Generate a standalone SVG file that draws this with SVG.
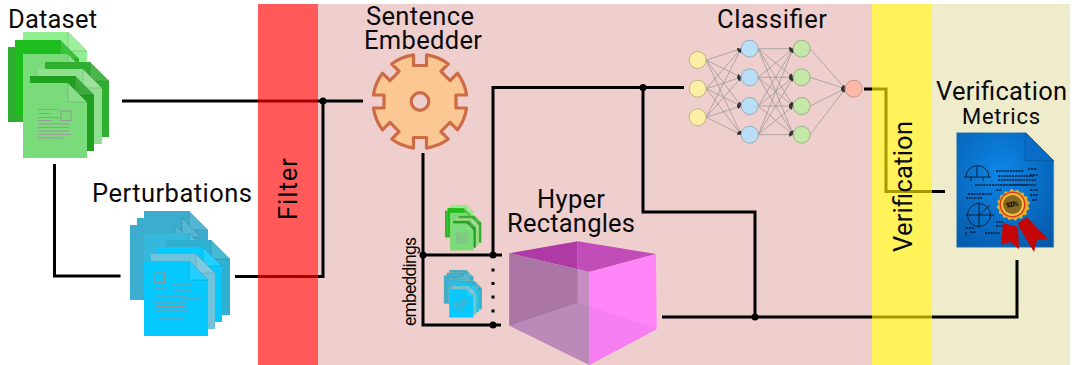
<svg xmlns="http://www.w3.org/2000/svg" xmlns:xlink="http://www.w3.org/1999/xlink" width="1080" height="365" viewBox="0 0 1080 365">
<style>
text{font-family:Roboto,"Liberation Sans",sans-serif;fill:#0a0a0a;font-size:25.500px}
.wire{fill:none;stroke:#000;stroke-width:3}
.dot{fill:#000}
.nn{stroke:#949494;stroke-width:.7;fill:none;marker-end:url(#ah)}
.c1,.c2,.c3,.c4{stroke-width:.9}
.c1{fill:#fdeea5;stroke:#b8ad7c}.c2{fill:#b9def5;stroke:#8fa9ba}.c3{fill:#c5e8a8;stroke:#93ad7e}.c4{fill:#fdb8a8;stroke:#c08d80}
.ln{stroke:#999;stroke-width:1.1;fill:none}
.ln2{stroke:#8a9aa0;stroke-width:1.1;fill:none}
.sc{stroke:#0a2340;stroke-width:1;fill:none}
.math{stroke:#071c38;stroke-width:1.300;stroke-dasharray:2 .8;fill:none}
</style>
<defs>
<marker id="ah" markerUnits="userSpaceOnUse" markerWidth="5" markerHeight="5" refX="4" refY="2" orient="auto"><path d="M0,0L4,2L0,4Z" fill="#333"/></marker>
<radialGradient id="blue" cx=".45" cy=".35" r=".8"><stop offset="0" stop-color="#0d86e6"/><stop offset="1" stop-color="#0558a8"/></radialGradient>
<g id="page"><path d="M0,0H45L64,19V75H0Z"/><path d="M45,0V19H64Z" fill="#fff" fill-opacity=".12" stroke="#000" stroke-opacity=".2" stroke-width=".6"/></g>
<g id="greenstack">
<use href="#page" x="23" y="32" fill="#8fee8f"/>
<use href="#page" x="8" y="47" fill="#2fae2f"/>
<use href="#page" x="15" y="40" fill="#1cbd1c"/>
<use href="#page" x="23" y="54" fill="#7adb7a"/>
<use href="#page" x="45" y="62" fill="#2fae2f"/>
<use href="#page" x="38" y="69" fill="#8fdf8f"/>
<use href="#page" x="30" y="76" fill="#1fa01f"/>
<use href="#page" x="23" y="83" fill="#7adb7a"/>
<rect x="23" y="54" width="15" height="15" fill="#7adb7a" stroke="none"/>
<rect x="23" y="69" width="7" height="89" fill="#7adb7a" stroke="none"/>
<path class="ln" d="M38,109.500H59M38,113.500H51M38,117.500H59M38,120.500H52M38,124H69M38,127.500H69M38,131H69M38,134.500H71M38,138H63"/>
<rect class="ln" x="61" y="111" width="10" height="9.500"/>
</g>
<g id="bluestack">
<use href="#page" x="144" y="211" fill="#3caccf"/>
<use href="#page" x="137" y="218" fill="#3caccf"/>
<use href="#page" x="130" y="225" fill="#3caccf"/>
<use href="#page" x="144" y="233" fill="#35b8dc"/>
<use href="#page" x="166" y="240" fill="#2fb0d0"/>
<use href="#page" x="158" y="247" fill="#05c9ff"/>
<use href="#page" x="151" y="254" fill="#6fc3dc"/>
<use href="#page" x="144" y="261" fill="#05c9ff"/>
<rect class="ln2" x="155" y="273" width="9.500" height="9.500"/>
<path class="ln2" d="M154,288H167M171,284H191M173,291H191M156,296H186M181,298H201M154,302H187M156,306.500H185M156,311H188M159,319H184"/>
</g>
</defs>
<rect width="1080" height="365" fill="#fff"/>
<g id="bands-back">
<rect x="318" y="4" width="554" height="361" fill="#efcece"/>
<rect x="932" y="4" width="138" height="361" fill="#efeccc"/>
</g>
<g id="connectors">
<path class="wire" d="M122,101H363"/>
<path class="wire" d="M54.500,164V276H120.500"/>
<path class="wire" d="M235,276.500H323V101"/>
<path class="wire" d="M423,153V325H501M423,255H502M493,255V87.500H684"/>
<path class="wire" d="M643,87.500V212H755V317"/>
<path class="wire" d="M662,317H1017V260"/>
<path class="wire" d="M864,89H886V191.500H945"/>
<circle class="dot" cx="323" cy="101" r="3.500"/>
<circle class="dot" cx="423" cy="255" r="3.500"/>
<circle class="dot" cx="493" cy="255" r="3.500"/>
<circle class="dot" cx="493" cy="325" r="3.500"/>
<circle class="dot" cx="643" cy="87.500" r="3.500"/>
<circle class="dot" cx="755" cy="317" r="3.500"/>
<rect class="dot" x="491.500" y="268.500" width="3" height="3"/>
<rect class="dot" x="491.500" y="282" width="3" height="3"/>
<rect class="dot" x="491.500" y="295.500" width="3" height="3"/>
<rect class="dot" x="491.500" y="309.500" width="3" height="3"/>
</g>
<g id="filter"><rect x="258" y="4" width="60" height="361" fill="#f00" fill-opacity=".65"/>
<text transform="translate(297,220) rotate(-90)" textLength="62">Filter</text></g>
<g id="verification"><rect x="872" y="4" width="60" height="361" fill="#ffed00" fill-opacity=".65"/>
<text transform="translate(912,252) rotate(-90)" textLength="131">Verification</text></g>
<g id="dataset">
<text x="8" y="28" textLength="89">Dataset</text>
<use href="#greenstack"/>
</g>
<g id="perturbations">
<text x="92" y="201.500" textLength="160">Perturbations</text>
<use href="#bluestack"/>
</g>
<g id="sentence-embedder">
<text x="366" y="25" textLength="108">Sentence</text>
<text x="364" y="49" textLength="118">Embedder</text>
<g transform="translate(420,101.500)">
<path fill="#fbc792" stroke="#cd6b45" stroke-width="3.200" stroke-linejoin="round" d="M-6.500,-46.550L-6.500,-36L6.500,-36L6.500,-46.550A47,47 0 0 1 28.320,-37.510L20.860,-30.050L30.050,-20.860L37.510,-28.320A47,47 0 0 1 46.550,-6.500L36,-6.500L36,6.500L46.550,6.500A47,47 0 0 1 37.510,28.320L30.050,20.860L20.860,30.050L28.320,37.510A47,47 0 0 1 6.500,46.550L6.500,36L-6.500,36L-6.500,46.550A47,47 0 0 1 -28.320,37.510L-20.860,30.050L-30.050,20.860L-37.510,28.320A47,47 0 0 1 -46.550,6.500L-36,6.500L-36,-6.500L-46.550,-6.500A47,47 0 0 1 -37.510,-28.320L-30.050,-20.860L-20.860,-30.050L-28.320,-37.510A47,47 0 0 1 -6.500,-46.550Z"/>
<circle r="8.800" fill="#efcece" stroke="#cd6b45" stroke-width="3.200"/>
</g>
</g>
<g id="embeddings">
<text transform="translate(416,326) rotate(-90)" style="font-size:17.500px" textLength="89">embeddings</text>
<use href="#greenstack" transform="translate(442.100,193.500) scale(.36)" stroke="#e6c46a" stroke-width=".7"/>
<use href="#bluestack" transform="translate(394.500,189.800) scale(.38)" stroke="#e6c46a" stroke-width=".7"/>
</g>
<g id="hyper-rectangles">
<text x="537" y="208" textLength="68">Hyper</text>
<text x="507" y="232" textLength="128">Rectangles</text>
<polygon points="509.300,253.300 577.700,241.300 577.700,269.300" fill="#ad3aa5"/>
<polygon points="577.700,241.300 656,254 589.300,272 577.700,269.300" fill="#c04db8"/>
<polygon points="509.300,253.300 589.300,272 589.300,365 509.300,325.700" fill="#bc8ab9"/>
<polygon points="509.300,253.300 577.700,269.300 577.700,302.700 509.300,325.700" fill="#ab76a6"/>
<polygon points="577.700,269.300 589.300,272 589.300,306.600 577.700,302.700" fill="#c48fc0"/>
<polygon points="589.300,272 656,254 656.700,329 589.300,365" fill="#fe84f8"/>
<polygon points="589.300,306.600 656.700,329 589.300,365" fill="#f57ef0"/>
</g>
<g id="classifier">
<text x="717" y="28" textLength="110">Classifier</text>
<g id="nn-edges">
<path class="nn" d="M706.200,60L741.200,48.700"/><path class="nn" d="M706.200,60L741.200,77.300"/><path class="nn" d="M706.200,60L741.200,106"/><path class="nn" d="M706.200,60L741.200,134.700"/>
<path class="nn" d="M706.200,88.700L741.200,48.700"/><path class="nn" d="M706.200,88.700L741.200,77.300"/><path class="nn" d="M706.200,88.700L741.200,106"/><path class="nn" d="M706.200,88.700L741.200,134.700"/>
<path class="nn" d="M706.200,117.300L741.200,48.700"/><path class="nn" d="M706.200,117.300L741.200,77.300"/><path class="nn" d="M706.200,117.300L741.200,106"/><path class="nn" d="M706.200,117.300L741.200,134.700"/>
<path class="nn" d="M758.200,48.700L793.200,48.700"/><path class="nn" d="M758.200,48.700L793.200,77.300"/><path class="nn" d="M758.200,48.700L793.200,106"/><path class="nn" d="M758.200,48.700L793.200,134.700"/>
<path class="nn" d="M758.200,77.300L793.200,48.700"/><path class="nn" d="M758.200,77.300L793.200,77.300"/><path class="nn" d="M758.200,77.300L793.200,106"/><path class="nn" d="M758.200,77.300L793.200,134.700"/>
<path class="nn" d="M758.200,106L793.200,48.700"/><path class="nn" d="M758.200,106L793.200,77.300"/><path class="nn" d="M758.200,106L793.200,106"/><path class="nn" d="M758.200,106L793.200,134.700"/>
<path class="nn" d="M758.200,134.700L793.200,48.700"/><path class="nn" d="M758.200,134.700L793.200,77.300"/><path class="nn" d="M758.200,134.700L793.200,106"/><path class="nn" d="M758.200,134.700L793.200,134.700"/>
<path class="nn" d="M810.200,48.700L845.200,88.700"/><path class="nn" d="M810.200,77.300L845.200,88.700"/><path class="nn" d="M810.200,106L845.200,88.700"/><path class="nn" d="M810.200,134.700L845.200,88.700"/>
</g>
<circle class="c1" cx="697.700" cy="60" r="8.500"/><circle class="c1" cx="697.700" cy="88.700" r="8.500"/><circle class="c1" cx="697.700" cy="117.300" r="8.500"/>
<circle class="c2" cx="749.700" cy="48.700" r="8.500"/><circle class="c2" cx="749.700" cy="77.300" r="8.500"/><circle class="c2" cx="749.700" cy="106" r="8.500"/><circle class="c2" cx="749.700" cy="134.700" r="8.500"/>
<circle class="c3" cx="801.700" cy="48.700" r="8.500"/><circle class="c3" cx="801.700" cy="77.300" r="8.500"/><circle class="c3" cx="801.700" cy="106" r="8.500"/><circle class="c3" cx="801.700" cy="134.700" r="8.500"/>
<circle class="c4" cx="853.700" cy="88.700" r="8.500"/>
</g>
<g id="verification-metrics">
<text x="936" y="100" textLength="131">Verification</text>
<text x="962" y="124" textLength="78" style="font-size:22px">Metrics</text>
<path d="M956.700,132.700H1025.700L1053.700,160.700V247.300H956.700Z" fill="url(#blue)" stroke="#5d8fb0" stroke-width=".6"/>
<path d="M1025.700,132.700L1053.700,160.700H1025Z" fill="#0a6cc4" stroke="#05559c" stroke-width=".8"/>
<g class="sc">
<path d="M966,177A11.500,11.500 0 0 1 989,177M964,177H991M977,165V177M971,177V181M983,177V181"/>
<circle cx="979" cy="215" r="11.500"/><path d="M966,215H994M979,202V228M979,215L990,205"/>
</g>
<path class="math" d="M975,185H1007M968,194H992M966,198H982M996,171H1024M998,176H1034M998,180H1036M1000,185H1028M1028,169H1037M1030,175H1038M1010,185H1036M996,190H1002M1030,190H1038M1030,195H1038M970,232H976M966,228H974M966,232V236M985,233H1000M996,222H1004M996,226H1006M1032,200H1038"/>
<polygon points="1003,223 1001,245 1010,242 1019,249 1018,227" fill="#c40606"/>
<polygon points="1018,223 1027,217 1048,239 1037,240 1034,252 1019,227" fill="#c40606"/>
<polygon fill="#e6ae28" points="1011.700,188.500 1014.500,191 1018,189.700 1019.800,192.800 1023.500,192.500 1024.200,196 1027.700,196.700 1027.200,200.300 1030,202.500 1028,205.500 1029.500,209 1026.500,211 1026.700,214.700 1023,215.300 1021.800,218.800 1018.200,218 1015.500,220.700 1012.500,218.700 1009,220.300 1006.800,217.300 1003.200,217.700 1002.300,214.200 998.800,213.300 999.300,209.700 996.500,207.300 998.700,204.500 997.200,201 1000.300,199 1000.200,195.300 1003.800,194.700 1005,191.200 1008.600,192"/>
<circle cx="1012.500" cy="204.500" r="13" fill="#d93a20"/>
<circle cx="1012.500" cy="204.500" r="11.500" fill="#f0c040"/>
<circle cx="1012.500" cy="204.500" r="9.500" fill="#8a6a20"/>
<text transform="translate(1006,208) rotate(-12)" textLength="13" style="font-size:7px;font-weight:700;fill:#111">100%</text>
</g>
</svg>
